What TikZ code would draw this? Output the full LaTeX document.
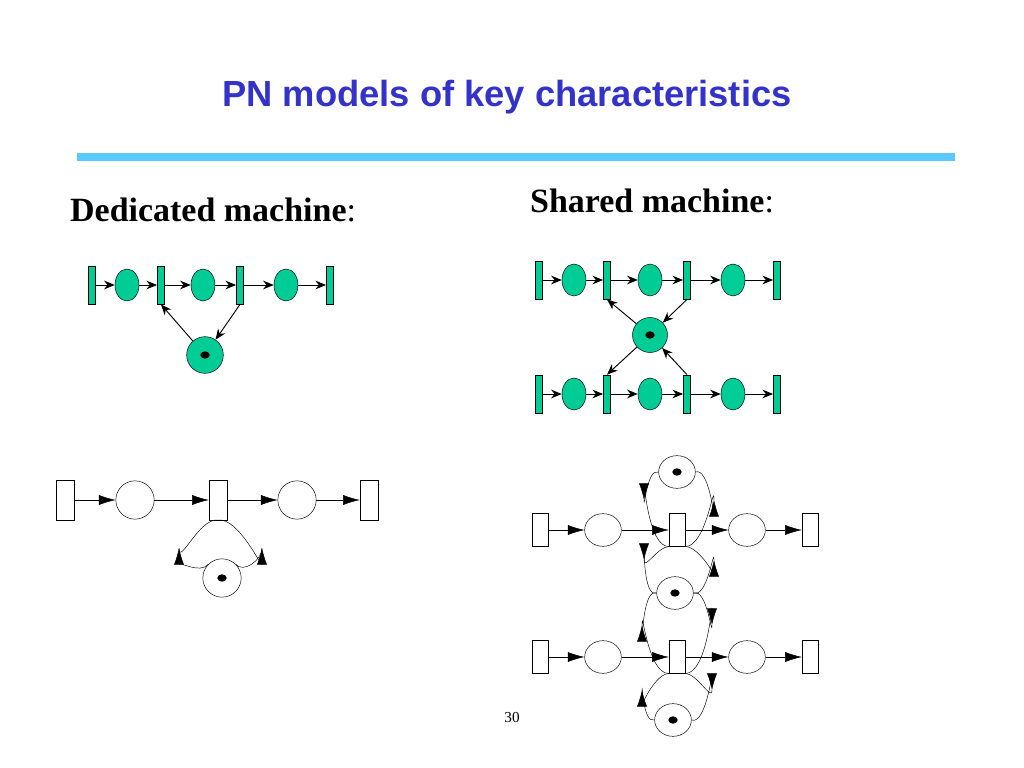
\documentclass[tikz,border=0pt]{standalone}
\usepackage{fontspec}
\setmainfont{Liberation Serif}
\setsansfont{Liberation Sans}
\usetikzlibrary{arrows.meta,shapes.geometric}
\definecolor{pngreen}{RGB}{0,204,150}
\definecolor{titleblue}{RGB}{51,51,204}
\definecolor{barblue}{RGB}{90,200,255}
\begin{document}
\begin{tikzpicture}
        [x=0.03cm,y=-0.03cm,
         trans_style/.style={rectangle,draw=black,fill=pngreen,minimum width=0.22cm,minimum height=1.15cm,inner sep=0},
         place_style/.style={ellipse,draw=black,fill=pngreen,minimum width=0.72cm,minimum height=0.96cm,inner sep=0},
         res_style/.style={circle,draw=black,fill=pngreen,minimum size=1.1cm,inner sep=0},
         wtrans_style/.style={rectangle,draw=black,fill=white,minimum width=0.54cm,minimum height=1.2cm,inner sep=0},
         wplace_style/.style={ellipse,draw=black,fill=white,minimum width=1.15cm,minimum height=1.15cm,inner sep=0},
         wplace2_style/.style={ellipse,draw=black,fill=white,minimum width=1.1cm,minimum height=0.98cm,inner sep=0},
         token/.style={path picture={\fill[black] (path picture bounding box.center) ellipse (0.14cm and 0.11cm);}},
         edge_style/.style={draw=black,thick,-{Stealth[length=0.32cm,width=0.26cm]}},
         wedge_style/.style={draw=black,-{Latex[length=0.5cm,width=0.3cm]}}]
            \useasboundingbox (0,0) rectangle (1024,768);
            % title
            \node[text=titleblue,font=\sffamily\bfseries\fontsize{31}{36}\selectfont] (title) at (507,97) {PN models of key characteristics};
            \draw[barblue,line width=0.24cm] (77,157) -- (955,157);
            \node[anchor=west,font=\fontsize{29}{34}\selectfont] (ded) at (66,210) {\textbf{Dedicated machine}:};
            \node[anchor=west,font=\fontsize{29}{34}\selectfont] (sha) at (526,201) {\textbf{Shared machine}:};
            \node[font=\fontsize{13}{16}\selectfont] (page) at (512,718) {30};
            % dedicated, green
            \node[trans_style] (a1) at (92,285) {};
            \node[place_style] (ap1) at (127,285) {};
            \node[trans_style] (a2) at (161,285) {};
            \node[place_style] (ap2) at (203,285) {};
            \node[trans_style] (a3) at (240,285) {};
            \node[place_style] (ap3) at (286,285) {};
            \node[trans_style] (a4) at (330,285) {};
            \node[res_style,token] (ar) at (205,355) {};
            \draw[edge_style] (a1) -- (ap1);
            \draw[edge_style] (ap1) -- (a2);
            \draw[edge_style] (a2) -- (ap2);
            \draw[edge_style] (ap2) -- (a3);
            \draw[edge_style] (a3) -- (ap3);
            \draw[edge_style] (ap3) -- (a4);
            \draw[edge_style] (ar) -- (a2.south);
            \draw[edge_style] (a3.south) -- (ar);
            % shared, green
            \foreach \r/\y in {b/280,c/394} {
              \node[trans_style] (\r1) at (539,\y) {};
              \node[place_style] (\r p1) at (574,\y) {};
              \node[trans_style] (\r2) at (607,\y) {};
              \node[place_style] (\r p2) at (650,\y) {};
              \node[trans_style] (\r3) at (687,\y) {};
              \node[place_style] (\r p3) at (733,\y) {};
              \node[trans_style] (\r4) at (777,\y) {};
              \draw[edge_style] (\r1) -- (\r p1);
              \draw[edge_style] (\r p1) -- (\r2);
              \draw[edge_style] (\r2) -- (\r p2);
              \draw[edge_style] (\r p2) -- (\r3);
              \draw[edge_style] (\r3) -- (\r p3);
              \draw[edge_style] (\r p3) -- (\r4);
            }
            \node[res_style,token,minimum size=1.05cm] (br) at (650,335) {};
            \draw[edge_style] (br) -- (b2.south);
            \draw[edge_style] (b3.south) -- (br);
            \draw[edge_style] (br) -- (c2.north);
            \draw[edge_style] (c3.north) -- (br);
            % dedicated, white
            \node[wtrans_style] (d1) at (65,500) {};
            \node[wplace_style] (dp1) at (135,500) {};
            \node[wtrans_style] (d2) at (218,500) {};
            \node[wplace_style] (dp2) at (297,500) {};
            \node[wtrans_style] (d3) at (369,500) {};
            \node[wplace_style,token] (dr) at (222,578) {};
            \draw[wedge_style] (d1) -- (dp1);
            \draw[wedge_style] (dp1) -- (d2);
            \draw[wedge_style] (d2) -- (dp2);
            \draw[wedge_style] (dp2) -- (d3);
            \draw[wedge_style] (dr.north west) to[out=-130,in=-90] (179,548);
            \draw (179,548) to[out=-90,in=-190] (d2.south);
            \draw[wedge_style] (d2.south) to[out=10,in=-90] (262,548);
            \draw (262,548) to[out=-90,in=-50] (dr.north east);
            % shared, white
            \foreach \r/\y in {e/530,f/657} {
              \node[wtrans_style,minimum width=0.48cm,minimum height=0.98cm] (\r1) at (540,\y) {};
              \node[wplace2_style] (\r p1) at (603,\y) {};
              \node[wtrans_style,minimum width=0.48cm,minimum height=0.98cm] (\r2) at (677,\y) {};
              \node[wplace2_style] (\r p2) at (747,\y) {};
              \node[wtrans_style,minimum width=0.48cm,minimum height=0.98cm] (\r3) at (810,\y) {};
              \draw[wedge_style] (\r1) -- (\r p1);
              \draw[wedge_style] (\r p1) -- (\r2);
              \draw[wedge_style] (\r2) -- (\r p2);
              \draw[wedge_style] (\r p2) -- (\r3);
            }
            \node[wplace2_style,token] (er) at (677,472) {};
            \node[wplace2_style,token] (mr) at (675,593) {};
            \node[wplace2_style,token] (fr) at (673,720) {};
            % top loop
            \draw[wedge_style] (e2.south west) to[out=-180,in=-270] (644,500);
            \draw (644,500) to[out=-90,in=-200] (er.west);
            \draw[wedge_style] (er.east) to[out=20,in=-90] (714,500);
            \draw (714,500) to[out=-270,in=0] (e2.south east);
            % middle loops
            \draw[wedge_style] (mr.west) to[out=-160,in=-270] (644,560);
            \draw (644,560) to[out=-90,in=-180] (e2.south west);
            \draw[wedge_style] (e2.south east) to[out=0,in=-90] (714,560);
            \draw (714,560) to[out=-270,in=-20] (mr.east);
            \draw[wedge_style] (mr.west) to[out=-200,in=-90] (642,625);
            \draw (642,625) to[out=-270,in=-180] (f2.south west);
            \draw[wedge_style] (f2.south east) to[out=0,in=-270] (712,625);
            \draw (712,625) to[out=-90,in=20] (mr.east);
            % bottom loop
            \draw[wedge_style] (f2.south west) to[out=-180,in=-90] (642,690);
            \draw (642,690) to[out=-270,in=-160] (fr.west);
            \draw[wedge_style] (fr.east) to[out=-20,in=-270] (712,690);
            \draw (712,690) to[out=-90,in=0] (f2.south east);
        \end{tikzpicture}
\end{document}
